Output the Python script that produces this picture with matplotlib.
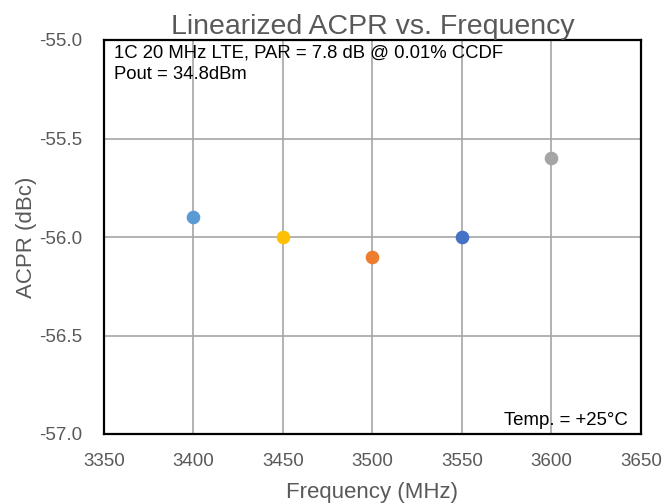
import numpy as np
import matplotlib.pyplot as plt

plt.rcParams['font.family'] = ['Liberation Sans', 'DejaVu Sans']

# data
freq_mhz = [3400, 3450, 3500, 3550, 3600]
acpr_dbc = [-55.9, -56.0, -56.1, -56.0, -55.6]
dot_colors = ['#5B9BD5', '#FFC000', '#ED7D31', '#4472C4', '#A5A5A5']

x_ticks = [3350, 3400, 3450, 3500, 3550, 3600, 3650]
y_ticks = [-57.0, -56.5, -56.0, -55.5, -55.0]

GRAY_TXT = '#595959'

fig = plt.figure(figsize=(6.65, 5.04), dpi=100)
ax = fig.add_axes([104 / 665, 1 - 434 / 504, (641 - 104) / 665, (434 - 40) / 504])

for f, a, c in zip(freq_mhz, acpr_dbc, dot_colors):
    ax.plot(f, a, 'o', color=c, ms=8.8, mec=c, zorder=3)

ax.set_xlim(3350, 3650)
ax.set_ylim(-57.0, -55.0)
ax.set_xticks(x_ticks)
ax.set_yticks(y_ticks)
ax.set_yticklabels([f'{v:.1f}' for v in y_ticks])
ax.grid(True, color='#A6A6A6', lw=1.2)
ax.set_axisbelow(True)
ax.tick_params(length=0, labelsize=13.5, colors=GRAY_TXT)
ax.tick_params(axis='x', pad=14)
ax.tick_params(axis='y', pad=16)
for s in ax.spines.values():
    s.set_color('black')
    s.set_linewidth(1.6)

ax.set_title('Linearized ACPR vs. Frequency', fontsize=20.5, color=GRAY_TXT, pad=3)
ax.set_xlabel('Frequency (MHz)', fontsize=16, color=GRAY_TXT, labelpad=8)
ax.set_ylabel('ACPR (dBc)', fontsize=16, color=GRAY_TXT, labelpad=1)

ax.text(0.018, 0.988, '1C 20 MHz LTE, PAR = 7.8 dB @ 0.01% CCDF\nPout = 34.8dBm',
        transform=ax.transAxes, ha='left', va='top', fontsize=13.3,
        color='black', linespacing=1.32)
ax.text(0.975, 0.022, 'Temp. = +25°C', transform=ax.transAxes, ha='right',
        va='baseline', fontsize=13.4, color='black')

fig.savefig('out.png', dpi=100)
